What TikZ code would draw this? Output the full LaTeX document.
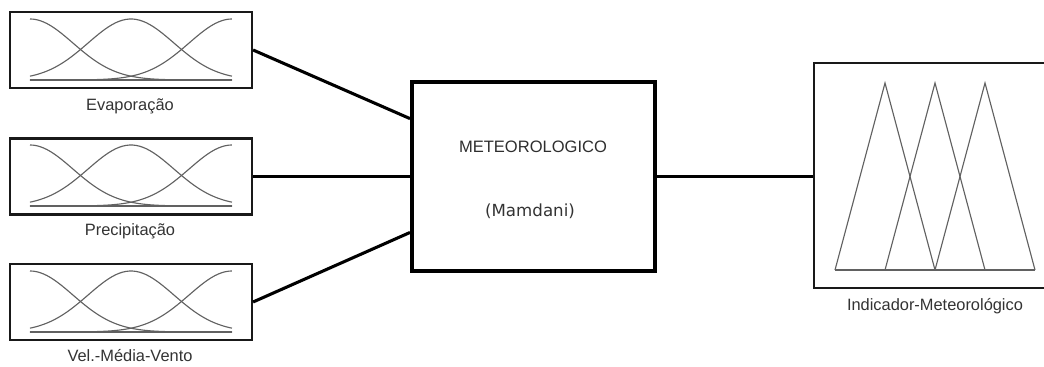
\documentclass[tikz,border=0pt]{standalone}
\usepackage{fontspec}
\usetikzlibrary{calc}
\setmainfont{Liberation Sans}
\newfontfamily\dvs{DejaVu Sans}
\begin{document}
\begin{tikzpicture}[x=0.75pt,y=-0.75pt,
  inbox/.style={draw=black!90,line width=1.6pt,minimum width=181.5pt,minimum height=57pt,inner sep=0pt},
  mainbox/.style={draw=black,line width=3pt,minimum width=182.25pt,minimum height=141.75pt,inner sep=0pt},
  outbox/.style={draw=black!90,line width=1.8pt,minimum width=187.5pt,minimum height=168.75pt,inner sep=0pt},
  conn/.style={line width=2.3pt,black},
  mf/.style={draw=black!62,line width=0.85pt},
  lbl/.style={text=black!80,font=\fontsize{12.3}{14}\selectfont,inner sep=0pt},
  gauss3/.pic={
    \draw[mf] (0,0) -- (202,0);
    \draw[mf] plot[domain=0:4.71,samples=60,smooth] ({42.9*\x},{-61*exp(-\x*\x/2)});
    \draw[mf] plot[domain=-2.355:2.355,samples=60,smooth] ({101+42.9*\x},{-61*exp(-\x*\x/2)});
    \draw[mf] plot[domain=-4.71:0,samples=60,smooth] ({202+42.9*\x},{-61*exp(-\x*\x/2)});
  },
  tri3/.pic={
    \draw[mf] (0,0) -- (200,0);
    \draw[mf] (0,0) -- (50,-187) -- (100,0);
    \draw[mf] (50,0) -- (100,-187) -- (150,0);
    \draw[mf] (100,0) -- (150,-187) -- (200,0);
  }]
\useasboundingbox (0,0) rectangle (1044,367);
\clip (0,0) rectangle (1044,367);
% input boxes
\node[inbox] (e) at (131,50) {};
\node[inbox] (p) at (131,176.5) {};
\node[inbox] (v) at (131,302) {};
\pic at (30,80) {gauss3};
\pic at (30,206) {gauss3};
\pic at (30,332) {gauss3};
\node[lbl] (le) at (130,106) {Evaporação};
\node[lbl] (lp) at (130,231) {Precipitação};
\node[lbl] (lv) at (130,356) {Vel.-Média-Vento};
% main box
\node[mainbox] (m) at (533.5,176.5) {};
\node[text=black!82,font=\fontsize{12.4}{14}\selectfont,inner sep=0pt] (mt) at (533,147) {METEOROLOGICO};
\node[text=black!80,font=\dvs\fontsize{12.5}{14}\selectfont,inner sep=0pt] (mm) at (530,211) {(Mamdani)};
% output box
\node[outbox] (o) at (939,175.5) {};
\pic at (835,270) {tri3};
\node[lbl] (lo) at (935,306) {Indicador-Meteorológico};
% connectors
\coordinate (m1) at ($(m.north west)!0.2!(m.south west)$);
\coordinate (m3) at ($(m.north west)!0.79!(m.south west)$);
\draw[conn] (e.east) -- (m1);
\draw[conn] (p.east) -- (m.west);
\draw[conn] (v.east) -- (m3);
\draw[conn] (m.east) -- (m.east -| o.west);
\end{tikzpicture}
\end{document}
